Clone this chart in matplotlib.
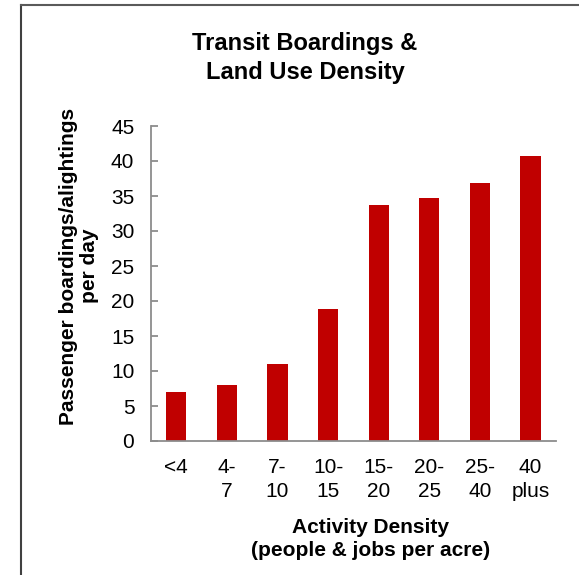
import matplotlib.pyplot as plt
from matplotlib.lines import Line2D

plt.rcParams['font.family'] = ['Liberation Sans', 'DejaVu Sans']

# Data
categories = ['<4', '4-\n7', '7-\n10', '10-\n15', '15-\n20', '20-\n25', '25-\n40', '40\nplus']
boardings = [7.0, 8.0, 11.0, 18.8, 33.7, 34.7, 36.8, 40.7]
yticks = [0, 5, 10, 15, 20, 25, 30, 35, 40, 45]

W, H = 579, 575
fig = plt.figure(figsize=(W / 100, H / 100), dpi=100)
ax = fig.add_axes([151 / W, 1 - 441 / H, 404.7 / W, 315 / H])

x = range(len(categories))
ax.bar(x, boardings, width=0.4, color='#C00000')

ax.set_xlim(-0.5, len(categories) - 0.5)
ax.set_ylim(0, 45)
ax.set_yticks(yticks)
ax.set_xticks(list(x))
ax.set_xticklabels(categories, multialignment='center', linespacing=1.35)

for s in ['top', 'right']:
    ax.spines[s].set_visible(False)
for s in ['left', 'bottom']:
    ax.spines[s].set_color('#8C8C8C')
    ax.spines[s].set_linewidth(1.3)

ax.tick_params(axis='y', direction='in', length=5, width=1.3, color='#8C8C8C',
               labelsize=15, pad=12)
ax.tick_params(axis='x', length=0, labelsize=15, pad=12)

ax.set_xlabel('Activity Density\n(people & jobs per acre)', fontsize=15,
              fontweight='bold', linespacing=1.3)
ax.xaxis.set_label_coords((371 - 151) / 404.7, (441 - 518) / 315)
ax.xaxis.label.set_va('top')

ax.set_ylabel('Passenger boardings/alightings\nper day', fontsize=15,
              fontweight='bold', linespacing=1.15)
ax.yaxis.set_label_coords((79 - 151) / 404.7, (441 - 266) / 315)
ax.yaxis.label.set_va('center')

fig.text(305 / W, 1 - 58 / H, 'Transit Boardings &\nLand Use Density',
         ha='center', va='center', fontsize=17, fontweight='bold', linespacing=1.35)

# outer frame (left and top edges only visible)
fig.add_artist(Line2D([21 / W, 21 / W], [0, 1 - 5 / H], transform=fig.transFigure,
                      color='#404040', lw=1.5))
fig.add_artist(Line2D([21 / W, 1], [1 - 5 / H, 1 - 5 / H], transform=fig.transFigure,
                      color='#5A5A5A', lw=1.5))

fig.savefig('out.png', dpi=100)
